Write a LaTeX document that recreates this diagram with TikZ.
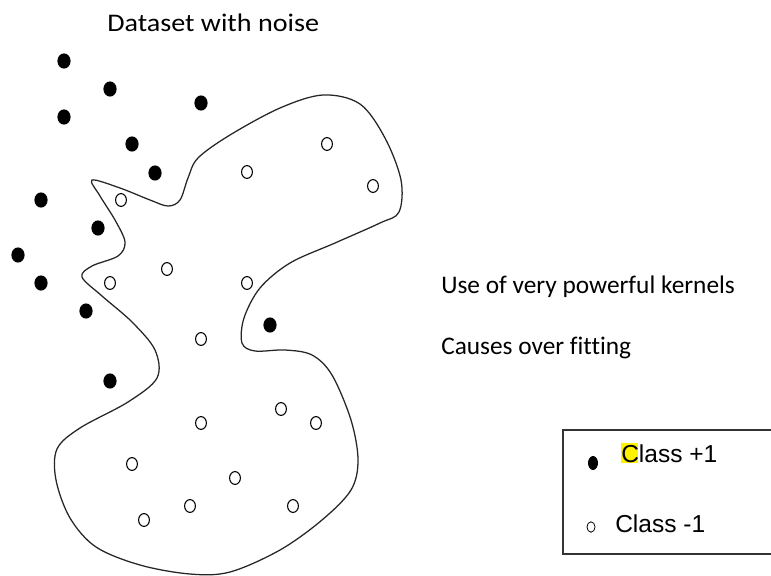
\documentclass[tikz,border=0pt]{standalone}
\usepackage{fontspec}
\setmainfont[Ligatures=NoCommon]{Carlito}
\newfontfamily\legendfont{Liberation Sans}
\begin{document}
\begin{tikzpicture}[x=0.75pt,y=-0.75pt,
  plus/.style={fill=black},
  minus/.style={draw=black,line width=0.8pt,fill=white},
  lbl/.style={inner sep=0pt,anchor=base west,font=\fontsize{19pt}{22pt}\selectfont},
  leg/.style={inner sep=0pt,anchor=base west,font=\legendfont\fontsize{18.4pt}{21pt}\selectfont}]
\useasboundingbox (0,0) rectangle (771,575);
\clip (0,0) rectangle (771,575);

% title
\node[lbl] (title) at (107,31) {\scalebox{1.11}[1]{Dataset with noise}};

% decision boundary
\draw[line width=0.95pt,black!85] plot[smooth cycle,tension=0.55] coordinates {
  (92,180) (120,188) (150,200) (168,206) (180,200) (188,178) (198,158)
  (230,135) (280,108) (323,95) (360,104) (385,138) (401,180) (399,212)
  (380,223) (335,243) (290,263) (260,288) (244,318) (242,343) (255,351)
  (285,350) (312,355) (332,375) (351,420) (358,460) (351,490) (322,520)
  (280,550) (230,572) (190,574) (140,565) (96,547) (70,518) (56,480)
  (57,449) (80,428) (128,402) (157,378) (155,350) (132,322) (102,296)
  (82,277) (92,266) (118,256) (125,242) (115,220) (100,196)};

% class +1 samples
\foreach \p in {(64,61),(110,89),(201,103),(64,117),(132,144),(155,173),
  (41,200),(98,228),(18,255),(41,283),(86,311),(270,325),(110,381)}
  \fill[plus] \p ellipse[x radius=6.6,y radius=7.6];

% class -1 samples
\foreach \p in {(121,200),(247,172),(327,144),(373,186),(167,269),(110,283),
  (247,283),(201,339),(281,409),(201,423),(316,423),(132,464),(235,478),
  (190,506),(293,506),(144,520)}
  \draw[minus] \p ellipse[x radius=5.4,y radius=6.4];

% side notes
\node[lbl] (note1) at (441,293) {Use of very powerful kernels};
\node[lbl] (note2) at (441,354) {Causes over fitting};

% legend
\draw[line width=0.8pt,black!80] (563,430) rectangle (775,554);
\fill[yellow] (621,443) rectangle (638,463);
\fill[plus] (593,463) ellipse[x radius=5,y radius=7];
\node[leg] (leg1) at (621,462) {Class +1};
\draw[minus,line width=0.6pt] (591,527) ellipse[x radius=4,y radius=5.2];
\node[leg] (leg2) at (615,532) {Class -1};
\end{tikzpicture}
\end{document}
